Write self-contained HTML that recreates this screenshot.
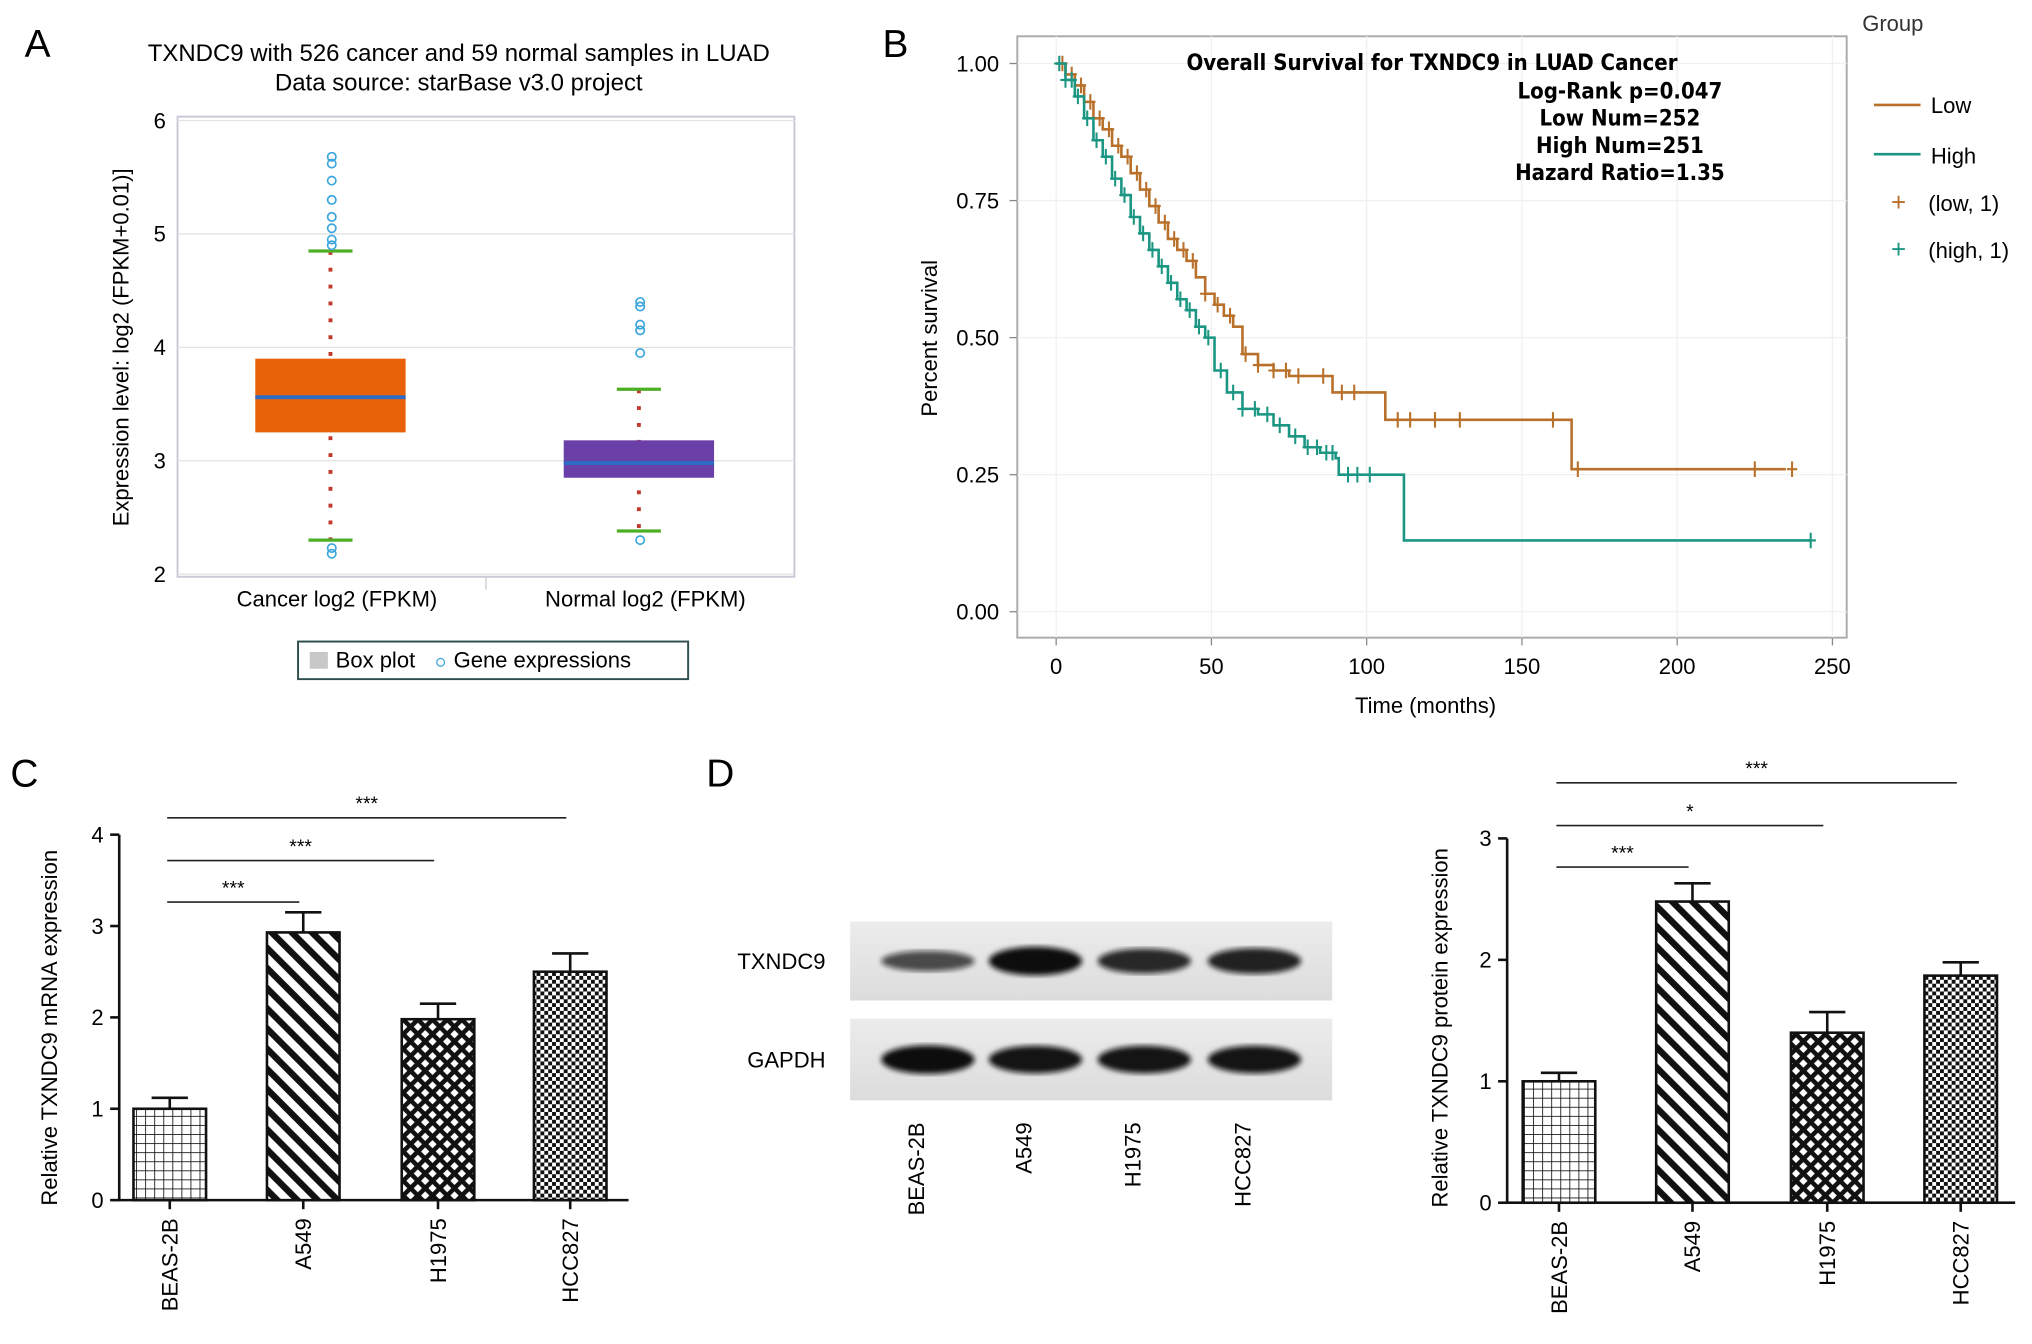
<!DOCTYPE html>
<html><head><meta charset="utf-8"><style>
html,body{margin:0;padding:0;background:#fff;}
svg{display:block;font-family:"Liberation Sans",Arial,sans-serif;}
</style></head><body>
<svg id="fig" width="2032" height="1344" viewBox="0 0 1568 1037" preserveAspectRatio="none" xmlns="http://www.w3.org/2000/svg">
<defs>
<pattern id="pGrid" width="7" height="7" patternUnits="userSpaceOnUse"><rect width="7" height="7" fill="#fff"/><path d="M0 0H7M0 0V7" stroke="#111" stroke-width="1.3"/></pattern>
<pattern id="pDiag" width="11" height="11" patternUnits="userSpaceOnUse" patternTransform="rotate(-45)"><rect width="11" height="11" fill="#fff"/><rect width="5" height="11" fill="#111"/></pattern>
<pattern id="pCross" width="8" height="8" patternUnits="userSpaceOnUse" patternTransform="rotate(45)"><rect width="8" height="8" fill="#111"/><rect x="2" y="2" width="4.5" height="4.5" fill="#fff"/></pattern>
<pattern id="pCheck" width="6" height="6" patternUnits="userSpaceOnUse"><rect width="6" height="6" fill="#fff"/><rect width="3" height="3" fill="#111"/><rect x="3" y="3" width="3" height="3" fill="#111"/></pattern>
<linearGradient id="blotBg" x1="0" x2="0" y1="0" y2="1"><stop offset="0" stop-color="#ececec"/><stop offset="1" stop-color="#dcdcdc"/></linearGradient>
<filter id="blur"><feGaussianBlur stdDeviation="2"/></filter>
</defs>
<g id="panelA"></g>
<g id="panelB"></g>
<g id="panelC"></g>
<g id="panelD"></g>
</svg>
<script>
// ---------- Panel A data ----------
const boxCategories = ["Cancer log2 (FPKM)", "Normal log2 (FPKM)"];
const boxQ1 = [3.25, 2.85];
const boxQ3 = [3.9, 3.18];
const boxMedian = [3.56, 2.98];
const boxWhiskerLow = [2.3, 2.38];
const boxWhiskerHigh = [4.85, 3.63];
const cancerOutliers = [5.68, 5.62, 5.47, 5.3, 5.15, 5.05, 4.95, 4.9, 2.23, 2.18];
const normalOutliers = [4.4, 4.36, 4.2, 4.15, 3.95, 2.3];
const boxYTicks = [2, 3, 4, 5, 6];
// ---------- Panel B data ----------
const lowTimes = [0,3,6,9,12,15,18,21,24,27,30,33,36,39,42,45,48,51,54,57,60,65,70,75,88,89,105,106,165,166,235];
const lowSurv  = [1,.98,.96,.93,.9,.88,.85,.83,.8,.77,.74,.71,.68,.66,.64,.61,.58,.56,.54,.52,.47,.45,.44,.43,.43,.4,.4,.35,.35,.26,.26];
const highTimes = [0,3,6,9,12,15,18,21,24,27,30,33,36,39,42,45,48,51,55,60,65,70,75,80,85,90,91,111,112,243];
const highSurv  = [1,.97,.94,.9,.86,.83,.79,.76,.72,.69,.66,.63,.6,.57,.55,.52,.5,.44,.4,.37,.36,.34,.32,.3,.29,.28,.25,.25,.13,.13];
const lowCensorT = [2,5,8,11,14,17,20,23,26,29,32,35,38,41,44,48,52,56,61,65,70,74,78,86,92,96,110,114,122,130,160,168,225,237];
const highCensorT = [1,3,5,7,10,13,16,19,22,25,28,31,34,37,40,43,46,49,53,57,60,64,68,72,77,81,84,87,89,94,97,101,243];
const kmXTicks = [0,50,100,150,200,250];
const kmYTicks = [0,0.25,0.5,0.75,1.0];
// ---------- Panel C data ----------
const cellLines = ["BEAS-2B","A549","H1975","HCC827"];
const mrnaValues = [1.0, 2.93, 1.98, 2.5];
const mrnaErrors = [0.12, 0.22, 0.17, 0.2];
const mrnaTicks = [0,1,2,3,4];
const mrnaSig = ["***","***","***"];
// ---------- Panel D data ----------
const proteinValues = [1.0, 2.48, 1.4, 1.87];
const proteinErrors = [0.07, 0.15, 0.17, 0.11];
const proteinTicks = [0,1,2,3];
const proteinSig = ["***","*","***"];
const txndc9Band = [0.55, 1.0, 0.8, 0.85];
const gapdhBand = [1.0, 0.95, 0.95, 0.95];

const NS="http://www.w3.org/2000/svg";
function el(parent, tag, attrs, text){const e=document.createElementNS(NS,tag);for(const k in attrs)e.setAttribute(k,attrs[k]);if(text!==undefined)e.textContent=text;parent.appendChild(e);return e;}
const patterns=["url(#pGrid)","url(#pDiag)","url(#pCross)","url(#pCheck)"];

// ===== Panel A =====
(function(){
const g=document.getElementById('panelA');
let t=el(g,'text',{x:19,y:44,'font-size':30},'A');

t=el(g,'text',{x:354,y:47,'font-size':18.5,'text-anchor':'middle'},'TXNDC9 with 526 cancer and 59 normal samples in LUAD');

t=el(g,'text',{x:354,y:70,'font-size':18.5,'text-anchor':'middle'},'Data source: starBase v3.0 project');

const X0=137,X1=613,yA=v=>443-(v-2)*87.5;
let r=el(g,'rect',{x:X0,y:90,width:X1-X0,height:355,fill:'#fff',stroke:'#c8c8d8','stroke-width':1.5});

boxYTicks.forEach(v=>{
 let l=el(g,'line',{x1:X0,x2:X1,y1:yA(v),y2:yA(v),stroke:'#e2e2e2'});
 
 let tx=el(g,'text',{x:128,y:yA(v)+6,'font-size':17,'text-anchor':'end'},v);
 
});
el(g,'line',{x1:375,x2:375,y1:445,y2:455,stroke:'#ccc'});
t=el(g,'text',{x:99,y:268,'font-size':17,'text-anchor':'middle',transform:'rotate(-90 99 268)'},'Expression level: log2 (FPKM+0.01)]');

const centers=[255,493],colors=['#e8620a','#6a3fa8'];
const outs=[cancerOutliers,normalOutliers];
boxCategories.forEach((c,i)=>{
 const cx=centers[i];
 let tx=el(g,'text',{x:cx+5,y:468,'font-size':17,'text-anchor':'middle'},c);
 
 let d=el(g,'line',{x1:cx,x2:cx,y1:yA(boxWhiskerHigh[i]),y2:yA(boxWhiskerLow[i]),stroke:'#c0392b','stroke-width':3,'stroke-dasharray':'3 10'});
 
 let b=el(g,'rect',{x:cx-58,y:yA(boxQ3[i]),width:116,height:yA(boxQ1[i])-yA(boxQ3[i]),fill:colors[i]});
 
 let m=el(g,'line',{x1:cx-58,x2:cx+58,y1:yA(boxMedian[i]),y2:yA(boxMedian[i]),stroke:'#2d6bc4','stroke-width':3});
 
 [boxWhiskerHigh[i],boxWhiskerLow[i]].forEach(w=>{
  let cap=el(g,'line',{x1:cx-17,x2:cx+17,y1:yA(w),y2:yA(w),stroke:'#4caf24','stroke-width':2.5});
  
 });
 outs[i].forEach(v=>{
  let o=el(g,'circle',{cx:cx+1,cy:yA(v),r:3.2,fill:'none',stroke:'#3ca6dc','stroke-width':1.3});
  
 });
});
let lg=el(g,'g',{});

el(lg,'rect',{x:230,y:495,width:301,height:29,fill:'#fff',stroke:'#2f4f4f','stroke-width':1.5});
el(lg,'rect',{x:239,y:503,width:14,height:13,fill:'#c8c8c8'});
el(lg,'text',{x:259,y:515,'font-size':17},'Box plot');
el(lg,'circle',{cx:340,cy:511,r:3,fill:'none',stroke:'#3ca6dc'});
el(lg,'text',{x:350,y:515,'font-size':17},'Gene expressions');
})();

// ===== Panel B =====
(function(){
const g=document.getElementById('panelB');
let t=el(g,'text',{x:681,y:44,'font-size':30},'B');

const xB=v=>815+v*2.396, yB=v=>472-v*423;
let r=el(g,'rect',{x:785,y:28,width:640,height:464,fill:'#fff',stroke:'#aaa','stroke-width':1.5});

kmXTicks.forEach(v=>{
 let l=el(g,'line',{x1:xB(v),x2:xB(v),y1:28,y2:492,stroke:'#f0f0f0'});
 
 el(g,'line',{x1:xB(v),x2:xB(v),y1:492,y2:498,stroke:'#888'});
 let tx=el(g,'text',{x:xB(v),y:520,'font-size':17,'text-anchor':'middle'},v);
 
});
kmYTicks.forEach(v=>{
 let l=el(g,'line',{x1:785,x2:1425,y1:yB(v),y2:yB(v),stroke:'#f0f0f0'});
 
 el(g,'line',{x1:779,x2:785,y1:yB(v),y2:yB(v),stroke:'#888'});
 let tx=el(g,'text',{x:771,y:yB(v)+6,'font-size':17,'text-anchor':'end'},v.toFixed(2));
 
});
t=el(g,'text',{x:1100,y:550,'font-size':17,'text-anchor':'middle'},'Time (months)');

t=el(g,'text',{x:723,y:261,'font-size':17,'text-anchor':'middle',transform:'rotate(-90 723 261)'},'Percent survival');

const info=[['Overall Survival for TXNDC9 in LUAD Cancer',1105,54],['Log-Rank p=0.047',1250,76],['Low Num=252',1250,97],['High Num=251',1250,118],['Hazard Ratio=1.35',1250,139]];
info.forEach(a=>{let tx=el(g,'text',{x:a[1],y:a[2],'font-size':17,'font-weight':'bold','text-anchor':'middle','font-family':'"DejaVu Sans Condensed","Liberation Sans Narrow",sans-serif'},a[0]);
 });
function stepAt(T,S,t){let s=S[0];for(let i=0;i<T.length;i++){if(T[i]<=t)s=S[i];else break;}return s;}
function curve(T,S,col,name,CT){
 let d='M'+xB(T[0])+' '+yB(S[0]);
 for(let i=1;i<T.length;i++){d+=' H'+xB(T[i])+' V'+yB(S[i]);}
 let p=el(g,'path',{d:d,fill:'none',stroke:col,'stroke-width':2});
 
 CT.forEach(ct=>{const x=xB(ct),y=yB(stepAt(T,S,ct));
  let c=el(g,'path',{d:`M${x-4} ${y}H${x+4}M${x} ${y-6}V${y+6}`,stroke:col,'stroke-width':1.6});
  });
}
curve(lowTimes,lowSurv,'#b8702a','low',lowCensorT);
curve(highTimes,highSurv,'#1b9683','high',highCensorT);
let lg=el(g,'g',{});

el(lg,'text',{x:1437,y:24,'font-size':17,fill:'#333'},'Group');
el(lg,'line',{x1:1446,x2:1482,y1:81,y2:81,stroke:'#b8702a','stroke-width':2});
el(lg,'text',{x:1490,y:87,'font-size':17},'Low');
el(lg,'line',{x1:1446,x2:1482,y1:119,y2:119,stroke:'#1b9683','stroke-width':2});
el(lg,'text',{x:1490,y:126,'font-size':17},'High');
el(lg,'text',{x:1465,y:163,'font-size':20,fill:'#b8702a','text-anchor':'middle'},'+');
el(lg,'text',{x:1488,y:163,'font-size':17},'(low, 1)');
el(lg,'text',{x:1465,y:199,'font-size':20,fill:'#1b9683','text-anchor':'middle'},'+');
el(lg,'text',{x:1488,y:199,'font-size':17},'(high, 1)');
})();

// ===== Bar chart helper =====
function barChart(g,opt){
 const yS=v=>opt.y0-v*opt.unit;
 let ax=el(g,'path',{d:`M${opt.ax} ${yS(opt.ticks[opt.ticks.length-1])}V${opt.y0}H${opt.axEnd}`,fill:'none',stroke:'#111','stroke-width':2});
 
 opt.ticks.forEach(v=>{
  el(g,'line',{x1:opt.ax-7,x2:opt.ax,y1:yS(v),y2:yS(v),stroke:'#111','stroke-width':2});
  let tx=el(g,'text',{x:opt.ax-12,y:yS(v)+6,'font-size':17,'text-anchor':'end'},v);
  
 });
 let yt=el(g,'text',{x:opt.titleX,y:opt.titleY,'font-size':17,'text-anchor':'middle',transform:`rotate(-90 ${opt.titleX} ${opt.titleY})`},opt.title);
 
 cellLines.forEach((c,i)=>{
  const cx=opt.centers[i],v=opt.values[i],e=opt.errors[i];
  let eb=el(g,'path',{d:`M${cx} ${yS(v)}V${yS(v+e)}M${cx-14} ${yS(v+e)}H${cx+14}`,stroke:'#111','stroke-width':2});
  
  let b=el(g,'rect',{x:cx-28,y:yS(v),width:56,height:opt.y0-yS(v),fill:patterns[i],stroke:'#111','stroke-width':2});
  
  el(g,'line',{x1:cx,x2:cx,y1:opt.y0,y2:opt.y0+7,stroke:'#111','stroke-width':2});
  let tx=el(g,'text',{x:cx+6,y:opt.y0+14,'font-size':17,'text-anchor':'end',transform:`rotate(-90 ${cx+6} ${opt.y0+14})`},c);
  
 });
 opt.sig.forEach((s,k)=>{
  const x1=opt.centers[0]-2,x2=opt.centers[k+1]-3,y=opt.sigY[k];
  let l=el(g,'line',{x1:x1,x2:x2,y1:y,y2:y,stroke:'#222','stroke-width':1.3});
  
  let tx=el(g,'text',{x:(x1+x2)/2,y:y-6,'font-size':15,'text-anchor':'middle'},s);
  
 });
}

// ===== Panel C =====
(function(){
const g=document.getElementById('panelC');
let t=el(g,'text',{x:8,y:607,'font-size':30},'C');

barChart(g,{y0:926,unit:70.5,ax:92,axEnd:485,ticks:mrnaTicks,values:mrnaValues,errors:mrnaErrors,
 centers:[131,234,338,440],sig:mrnaSig,sigY:[696,664,631],title:'Relative TXNDC9 mRNA expression',titleX:44,titleY:793});
})();

// ===== Panel D =====
(function(){
const g=document.getElementById('panelD');
let t=el(g,'text',{x:545,y:607,'font-size':30},'D');

const laneX=[716,799,883,968];
const rows=[{y:711,h:61,label:'TXNDC9',vals:txndc9Band},{y:786,h:63,label:'GAPDH',vals:gapdhBand}];
rows.forEach(r=>{
 let bg=el(g,'rect',{x:656,y:r.y,width:372,height:r.h,fill:'url(#blotBg)'});
 
 let lb=el(g,'text',{x:637,y:r.y+r.h/2+6,'font-size':17,'text-anchor':'end'},r.label);
 
 r.vals.forEach((v,i)=>{
  let band=el(g,'ellipse',{cx:laneX[i],cy:r.y+r.h/2,rx:36,ry:4+7*v,fill:'#111','fill-opacity':0.4+0.6*v,filter:'url(#blur)'});
  
 });
});
cellLines.forEach((c,i)=>{
 let tx=el(g,'text',{x:laneX[i]-3,y:866,'font-size':17,'text-anchor':'end',transform:`rotate(-90 ${laneX[i]-3} 866)`},c);
 
});
barChart(g,{y0:928,unit:93.7,ax:1163,axEnd:1555,ticks:proteinTicks,values:proteinValues,errors:proteinErrors,
 centers:[1203,1306,1410,1513],sig:proteinSig,sigY:[669,637,604],title:'Relative TXNDC9 protein expression',titleX:1117,titleY:793});
})();
</script>
</body></html>
